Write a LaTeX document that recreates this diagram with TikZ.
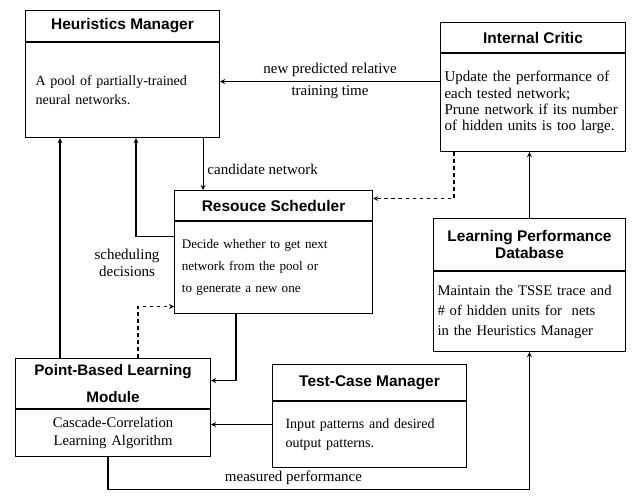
\documentclass[tikz,border=0pt]{standalone}
\usepackage{fontspec}
\setmainfont{Liberation Serif}
\setsansfont{Liberation Sans}
\usetikzlibrary{positioning}

\begin{document}
\begin{tikzpicture}[->,>=stealth,x=0.03cm,y=-0.03cm,line width=0.9pt,
		title/.style={draw, anchor=north west, align=center, inner sep=0pt,
			font=\sffamily\bfseries\fontsize{13.2}{15}\selectfont},
		body/.style={draw, anchor=north west, align=left, inner ysep=0pt,
			font=\fontsize{12}{17}\selectfont},
		lbl/.style={font=\fontsize{12.8}{14}\selectfont, align=center}]

		\useasboundingbox (0,0) rectangle (633,498);

		%% Boxes
		% Heuristics Manager
		\begin{scope}
			\node (hm_title) at (25,10) [title, minimum width=5.82cm, minimum height=0.93cm] {Heuristics Manager};
			\node (hm_body) at (hm_title.south west) [body, text width=5.22cm, inner xsep=0.3cm, minimum height=2.85cm,
				font=\fontsize{12}{16}\selectfont] {A pool of partially-trained\\neural networks.};
		\end{scope}

		% Internal Critic
		\begin{scope}
			\node (ic_title) at (440,22) [title, minimum width=5.55cm, minimum height=0.9cm] {Internal Critic};
			\node (ic_body) at (ic_title.south west) [body, text width=5.31cm, inner xsep=0.12cm, minimum height=2.94cm,
				font=\fontsize{12.8}{14}\selectfont] {Update the performance of\\each tested network;\\Prune network if its number\\of hidden units is too large.};
		\end{scope}

		% Resource Scheduler
		\begin{scope}
			\node (rs_title) at (174,190) [title, minimum width=5.94cm, minimum height=0.9cm] {Resouce Scheduler};
			\node (rs_body) at (rs_title.south west) [body, text width=5.5cm, inner xsep=0.22cm, minimum height=2.76cm,
				font=\fontsize{11.2}{19}\selectfont] {Decide whether to get next\\network from the pool or\\to generate a new one};
		\end{scope}

		% Learning Performance Database
		\begin{scope}
			\node (lpd_title) at (433,218) [title, minimum width=5.76cm, minimum height=1.56cm] {Learning Performance\\Database};
			\node (lpd_body) at (lpd_title.south west) [body, text width=5.52cm, inner xsep=0.12cm, minimum height=2.4cm,
				font=\fontsize{12.5}{17}\selectfont] {Maintain the TSSE trace and\\\# of hidden units for\ \ nets\\in the Heuristics Manager};
		\end{scope}

		% Point-Based Learning Module
		\begin{scope}
			\node (pbl_title) at (15,358) [title, minimum width=5.85cm, minimum height=1.5cm,
				font=\sffamily\bfseries\fontsize{13}{23}\selectfont] {Point-Based Learning\\Module};
			\node (pbl_body) at (pbl_title.south west) [body, align=center, text width=5.85cm, inner xsep=0pt, minimum height=1.41cm,
				font=\fontsize{12.5}{15}\selectfont] {Cascade-Correlation\\Learning Algorithm};
		\end{scope}

		% Test-Case Manager
		\begin{scope}
			\node (tcm_title) at (272,364) [title, minimum width=5.82cm, minimum height=1.08cm] {Test-Case Manager};
			\node (tcm_body) at (tcm_title.south west) [body, text width=5.04cm, inner xsep=0.39cm, minimum height=1.98cm] {Input patterns and desired\\output patterns.};
		\end{scope}

		%% Edges
		\draw ([yshift=0.63cm]ic_body.west) -- node[lbl, above] {new predicted relative} node[lbl, below] {training time}
			([yshift=0.63cm]ic_body.west -| hm_body.east);

		\draw ([xshift=-0.51cm]hm_body.south east) -- node[lbl, right, pos=0.6] {candidate network}
			([xshift=-0.51cm]hm_body.south east |- rs_title.north);

		\draw ([yshift=0.93cm]rs_body.west) -| node[lbl, below, pos=0.5, xshift=-0.27cm, yshift=-0.25cm] {scheduling\\decisions}
			([xshift=3.33cm]hm_body.south west);

		\draw ([xshift=1.35cm]pbl_title.north west) -- ([xshift=1.35cm]pbl_title.north west |- hm_body.south);

		\draw[dashed] ([xshift=0.42cm]ic_body.south west) |- ([yshift=0.21cm]rs_title.east);
		\draw[dashed] ([xshift=3.69cm]pbl_title.north west) |- ([yshift=-1.17cm]rs_body.west);

		\draw ([xshift=1.86cm]rs_body.south west) |- ([yshift=0.09cm]pbl_title.east);

		\draw (lpd_title.north) -- (lpd_title.north |- ic_body.south);

		\coordinate (tcm_in) at ([yshift=0.3cm]tcm_body.west);
		\draw (tcm_in) -- (tcm_in -| pbl_body.east);

		\draw ([xshift=2.79cm]pbl_body.south west) -- ++(0,32) -| node[lbl, above, pos=0.22] {measured performance}
			(lpd_body.south);
	\end{tikzpicture}
\end{document}
